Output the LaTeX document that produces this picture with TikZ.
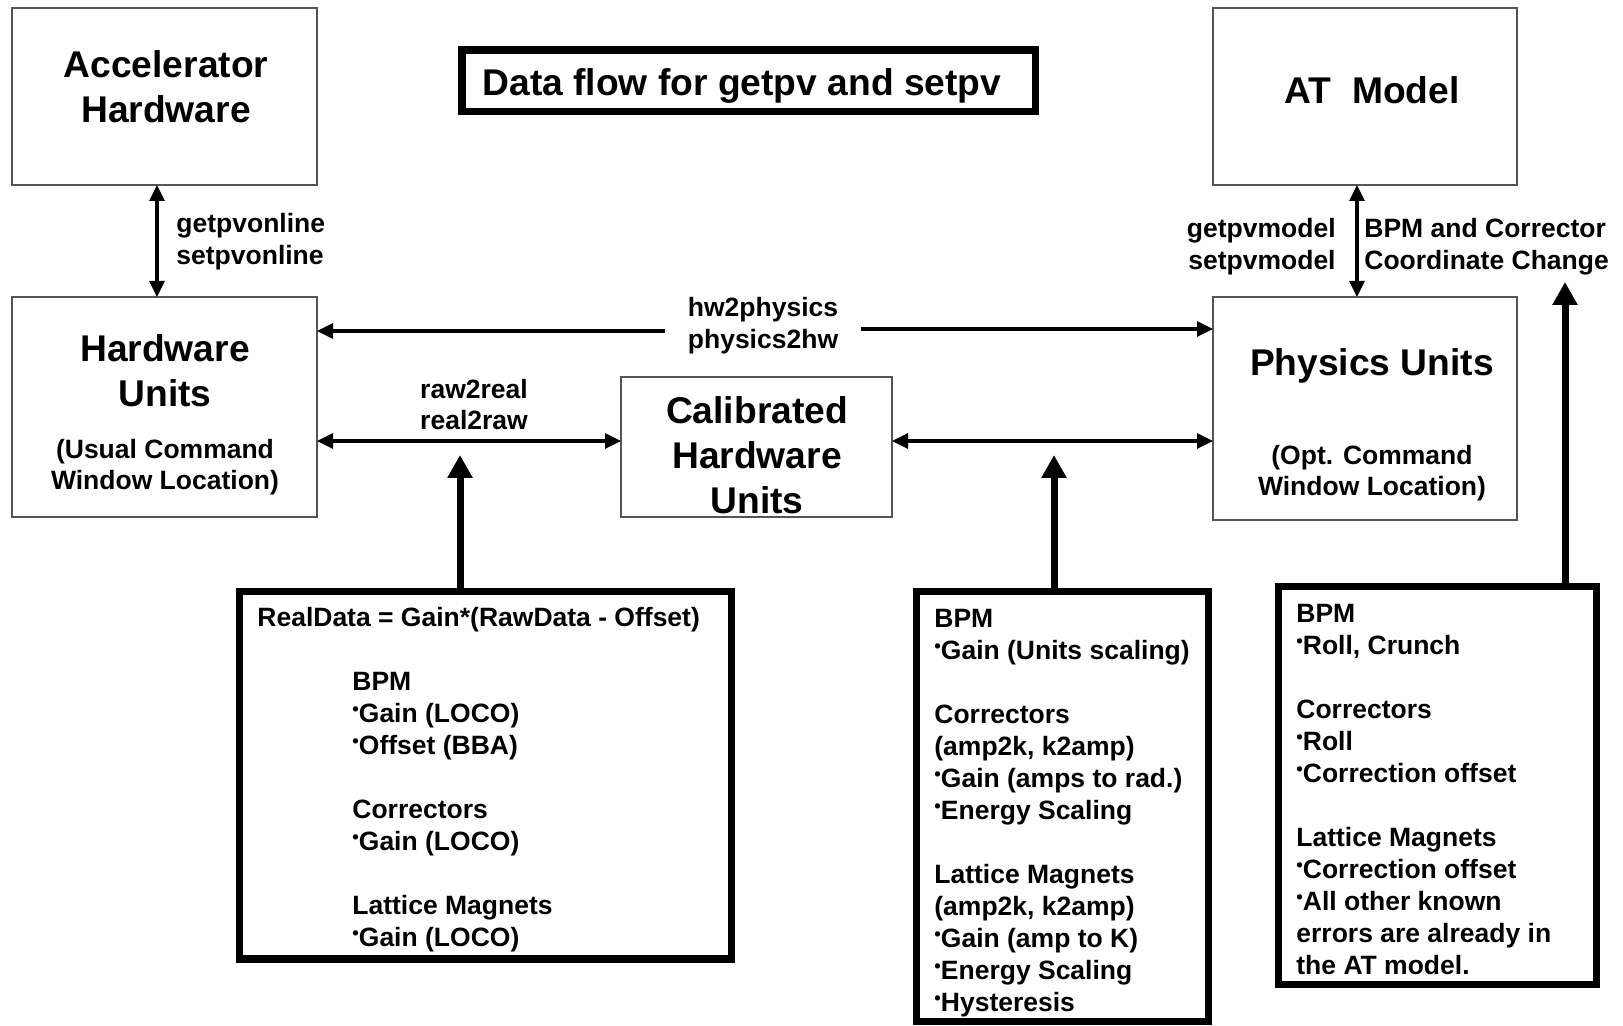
\documentclass[tikz,border=0pt]{standalone}
\usepackage{fontspec}
\setmainfont{Liberation Sans}
\usetikzlibrary{arrows.meta}
\definecolor{boxgray}{HTML}{555555}
\newcommand{\bul}{\raisebox{0.45ex}{\scalebox{0.7}{\textbullet}}}

\begin{document}
\begin{tikzpicture}[x=0.5pt,y=-0.5pt]
  \tikzset{
    unitbox/.style={draw=boxgray,line width=1pt,inner sep=0pt,outer sep=0pt,anchor=north west},
    notebox/.style={draw,line width=3.7pt,inner sep=0pt,outer sep=0pt,anchor=north west},
    bigtxt/.style={font=\fontsize{18.6}{22.5}\selectfont\bfseries,inner sep=0pt,align=center,anchor=base},
    smalltxt/.style={font=\fontsize{13.25}{16}\selectfont\bfseries,inner sep=0pt},
    link/.style={line width=1.6pt,{Triangle[length=8pt,width=7.5pt]}-{Triangle[length=8pt,width=7.5pt]}},
    oneway/.style={line width=1.6pt,-{Triangle[length=8pt,width=7.5pt]}},
    feed/.style={line width=3.5pt,-{Triangle[length=11.5pt,width=12pt]}}
  }
  \useasboundingbox (0,0) rectangle (1623,1026);

  % unit boxes
  \node[unitbox,minimum width=152.5pt,minimum height=88.5pt] (acc) at (12,8) {};
  \node[unitbox,minimum width=152.5pt,minimum height=110.25pt] (hw) at (12,297) {};
  \node[unitbox,minimum width=135.5pt,minimum height=70.25pt] (cal) at (621,377) {};
  \node[unitbox,minimum width=152pt,minimum height=88.5pt] (atm) at (1213,8) {};
  \node[unitbox,minimum width=152pt,minimum height=111.5pt] (phys) at (1213,297) {};
  \node[notebox,minimum width=286.75pt,minimum height=30.75pt] (title) at (462,50) {};

  % multi-line texts sit on the base of their last line
  \node[bigtxt] (acctxt) at (166,123) {Accelerator\\Hardware};
  \node[bigtxt] (hwtxt) at (165,407) {Hardware\\Units};
  \node[bigtxt] (caltxt) at (757,514) {Calibrated\\Hardware\\Units};
  \node[bigtxt] (atmtxt) at (1372,104) {AT\ \ Model};
  \node[bigtxt] (phystxt) at (1372,376) {Physics Units};
  \node[bigtxt] (titletxt) at (742,96) {Data flow for getpv and setpv};
  \node[smalltxt,align=center,anchor=base] (hwloc) at (165,490) {(Usual Command\\Window Location)};
  \node[smalltxt,align=center,anchor=base] (physloc) at (1372,496) {(Opt. Command\\Window Location)};

  % note boxes
  \node[notebox,minimum width=246pt,minimum height=183.75pt] (rawnote) at (239.5,591.5) {};
  \node[notebox,minimum width=146pt,minimum height=215pt] (calnote) at (916.5,591.5) {};
  \node[notebox,minimum width=159pt,minimum height=199pt] (physnote) at (1278.5,586.5) {};

  \node[smalltxt,anchor=base west] (formula) at (257,626) {RealData = Gain*(RawData - Offset)};
  \node[smalltxt,align=left,anchor=base west] (rawlist) at (352,946)
    {BPM\\\bul Gain (LOCO)\\\bul Offset (BBA)\\[16pt]Correctors\\\bul Gain (LOCO)\\[16pt]Lattice Magnets\\\bul Gain (LOCO)};
  \node[smalltxt,align=left,anchor=base west] (callist) at (934,1011)
    {BPM\\\bul Gain (Units scaling)\\[16pt]Correctors\\(amp2k, k2amp)\\\bul Gain (amps to rad.)\\\bul Energy Scaling\\[16pt]Lattice Magnets\\(amp2k, k2amp)\\\bul Gain (amp to K)\\\bul Energy Scaling\\\bul Hysteresis};
  \node[smalltxt,align=left,anchor=base west] (physlist) at (1296,974)
    {BPM\\\bul Roll, Crunch\\[16pt]Correctors\\\bul Roll\\\bul Correction offset\\[16pt]Lattice Magnets\\\bul Correction offset\\\bul All other known\\errors are already in\\the AT model.};

  % connector labels
  \node[smalltxt,align=left,anchor=base west] (online) at (176,265) {getpvonline\\setpvonline};
  \node[smalltxt,align=center,anchor=base,inner xsep=11pt] (hwphys) at (763,349) {hw2physics\\physics2hw};
  \node[smalltxt,align=center,anchor=base] (rawreal) at (474,430) {raw2real\\real2raw};
  \node[smalltxt,align=right,anchor=base east] (model) at (1336,270) {getpvmodel\\setpvmodel};
  \node[smalltxt,align=left,anchor=base west] (coord) at (1364,270) {BPM and Corrector\\Coordinate Change};

  % connectors
  \draw[link] (acc.south -| 157,0) -- (hw.north -| 157,0);
  \draw[link] (atm.south -| 1357,0) -- (phys.north -| 1357,0);
  \draw[oneway] (hwphys.west |- 0,331) -- (hw.east |- 0,331);
  \draw[oneway] (hwphys.east |- 0,329) -- (phys.west |- 0,329);
  \draw[link] (hw.east |- 0,441) -- (cal.west |- 0,441);
  \draw[link] (cal.east |- 0,441) -- (phys.west |- 0,441);

  \draw[feed] (rawnote.north -| 460,0) -- (460,455);
  \draw[feed] (calnote.north -| 1054,0) -- (1054,455);
  \draw[feed] (physnote.north -| 1565,0) -- (1565,282);
\end{tikzpicture}
\end{document}
